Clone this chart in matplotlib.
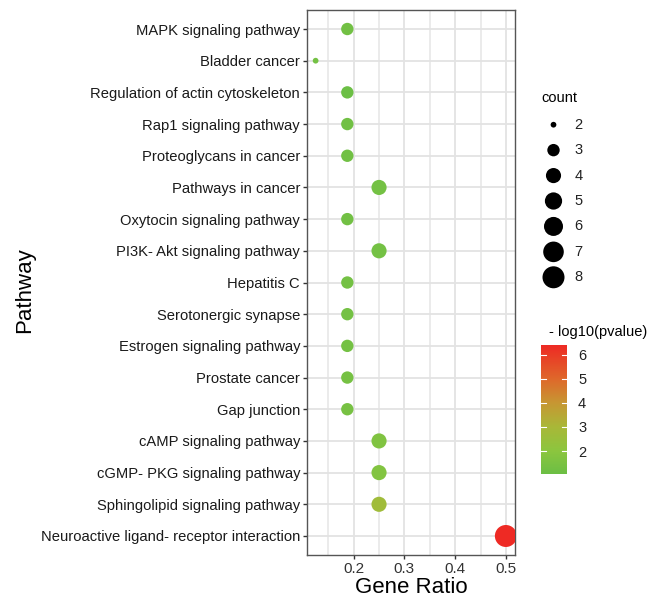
import numpy as np
import matplotlib
matplotlib.use("Agg")
import matplotlib.pyplot as plt
from matplotlib.colors import LinearSegmentedColormap, Normalize

plt.rcParams['font.family'] = ['Liberation Sans', 'DejaVu Sans']

pathways = [
    "MAPK signaling pathway",
    "Bladder cancer",
    "Regulation of actin cytoskeleton",
    "Rap1 signaling pathway",
    "Proteoglycans in cancer",
    "Pathways in cancer",
    "Oxytocin signaling pathway",
    "PI3K- Akt signaling pathway",
    "Hepatitis C",
    "Serotonergic synapse",
    "Estrogen signaling pathway",
    "Prostate cancer",
    "Gap junction",
    "cAMP signaling pathway",
    "cGMP- PKG signaling pathway",
    "Sphingolipid signaling pathway",
    "Neuroactive ligand- receptor interaction",
]
gene_ratio = [0.1875, 0.125, 0.1875, 0.1875, 0.1875, 0.25, 0.1875, 0.25, 0.1875,
              0.1875, 0.1875, 0.1875, 0.1875, 0.25, 0.25, 0.25, 0.5]
counts = [3, 2, 3, 3, 3, 4, 3, 4, 3, 3, 3, 3, 3, 4, 4, 4, 8]
neg_log10_p = [1.25, 1.3, 1.05, 1.2, 1.2, 1.3, 1.25, 1.3, 1.3, 1.3, 1.3, 1.35,
               1.4, 1.65, 1.7, 2.7, 6.4]

legend_counts = [2, 3, 4, 5, 6, 7, 8]
x_ticks = [0.2, 0.3, 0.4, 0.5]
cbar_ticks = [2, 3, 4, 5, 6]

vmin, vmax = min(neg_log10_p), max(neg_log10_p)
# colour anchors of the gradient (value, colour)
anchor_vals = [vmin, 2.0, 3.0, 4.0, 5.0, vmax]
anchor_cols = ["#6cbf45", "#8cc63f", "#a9b838", "#c79733", "#df682b", "#ee2a24"]
cmap = LinearSegmentedColormap.from_list(
    "grad", [((v - vmin) / (vmax - vmin), c) for v, c in zip(anchor_vals, anchor_cols)])
norm = Normalize(vmin=vmin, vmax=vmax)


def diam_px(c):
    x = (np.asarray(c, float) - min(legend_counts)) / (max(legend_counts) - min(legend_counts))
    return 2.5 + 3.25 * (1 + 5 * np.sqrt(x))


def size_pts2(c):
    return (diam_px(c) * 0.72) ** 2


W, H = 654, 600
fig = plt.figure(figsize=(W / 100, H / 100), dpi=100)

ax = fig.add_axes([307 / W, 1 - 555 / H, (515 - 307) / W, (555 - 10) / H])
n = len(pathways)
ypos = np.arange(n)[::-1]
ax.scatter(gene_ratio, ypos, s=size_pts2(counts), c=neg_log10_p, cmap=cmap, norm=norm,
           linewidths=0, zorder=3)
ax.set_xlim(0.108, 0.518)
ax.set_ylim(-0.6, n - 0.4)
ax.set_yticks(ypos)
ax.set_yticklabels(pathways, fontsize=10.6, color="#1a1a1a")
ax.set_xticks(x_ticks)
ax.set_xticklabels([f"{v:g}" for v in x_ticks], fontsize=11, color="#333333")
ax.set_xticks([0.15, 0.25, 0.35, 0.45], minor=True)
ax.grid(True, which="major", color="#e3e3e3", linewidth=1.3, zorder=0)
ax.grid(True, which="minor", axis="x", color="#e6e6e6", linewidth=1.1, zorder=0)
ax.tick_params(axis="both", which="major", length=3, width=1.0, color="#333333", pad=2)
ax.tick_params(axis="x", which="minor", length=0)
for sp in ax.spines.values():
    sp.set_color("#555555")
    sp.set_linewidth(1.0)
ax.set_axisbelow(True)
ax.set_xlabel("Gene Ratio", fontsize=16, labelpad=1)
fig.text(25 / W, 1 - 290 / H, "Pathway", rotation=90, fontsize=16, ha="center", va="center")

# ---- size legend ----
fig.text(541 / W, 1 - 98 / H, "count", fontsize=10.5, ha="left", va="center")
lax = fig.add_axes([540 / W, 1 - 290 / H, 30 / W, (290 - 112) / H])
lax.set_xlim(0, 1)
ly = np.arange(len(legend_counts))[::-1]
lax.set_ylim(-0.5, len(legend_counts) - 0.5)
lax.scatter([0.45] * len(legend_counts), ly, s=size_pts2(legend_counts), c="black",
            linewidths=0)
for yy, c in zip(ly, legend_counts):
    lax.text(1.15, yy, str(c), fontsize=10.5, ha="left", va="center", color="#222222")
lax.axis("off")

# ---- colourbar ----
fig.text(549 / W, 1 - 332 / H, "- log10(pvalue)", fontsize=10.5, ha="left", va="center")
cax = fig.add_axes([541 / W, 1 - 474 / H, (567 - 541) / W, (474 - 345) / H])
grad = np.linspace(norm.vmin, norm.vmax, 256).reshape(-1, 1)
cax.imshow(grad, aspect="auto", cmap=cmap, norm=norm, origin="lower",
           extent=[0, 1, norm.vmin, norm.vmax])
cax.set_xlim(0, 1)
cax.set_ylim(norm.vmin, norm.vmax)
for t in cbar_ticks:
    cax.plot([0, 0.2], [t, t], color="white", lw=0.8)
    cax.plot([0.8, 1], [t, t], color="white", lw=0.8)
cax.set_xticks([])
cax.set_yticks(cbar_ticks)
cax.yaxis.tick_right()
cax.tick_params(axis="y", length=0, labelsize=10.5, pad=8, labelcolor="#222222")
for sp in cax.spines.values():
    sp.set_visible(False)

fig.savefig("out.png", dpi=100)
